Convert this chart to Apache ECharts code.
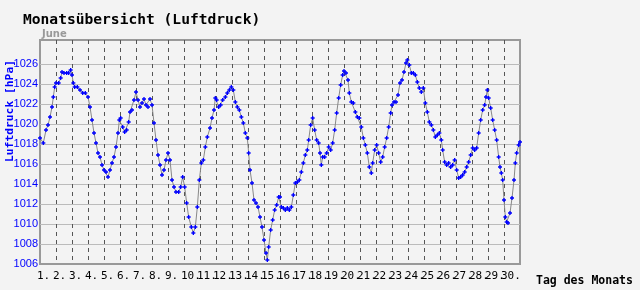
<!DOCTYPE html>
<html>
<head>
<meta charset="utf-8">
<script src="https://cdn.jsdelivr.net/npm/echarts@6/dist/echarts.min.js"></script>
<style>
html,body{margin:0;padding:0;background:#f3f3f3;}
#c{width:640px;height:290px;}
</style>
</head>
<body>
<div id="c"></div>
<script>
// Time of each reading, in hours since the start of the month (0 = day 1, 00:00)
const hours = [
  0,5,9,12,15,18,20,22,24,28,31,33,36,40,43,46,48,50,52,56,60,64,68,72,75,78,81,84,87,90,93,96,99,102,105,108,111,114,117,119,121,124,127,130,133,135,138,141,144,147,150,153,156,159,162,165,168,171,174,177,180,
  183,186,189,192,195,198,201,204,208,211,214,217,220,223,227,230,233,236,239,242,245,248,251,255,258,261,263,265,268,271,274,278,281,284,287,290,293,296,299,302,305,308,311,313,315,318,321,324,327,330,333,336,339,341,343,346,349,352,355,358,360,
  362,365,368,371,374,377,380,383,386,389,392,395,398,401,403,406,409,412,415,418,420,422,424,427,430,433,436,439,442,445,448,451,454,456,459,462,464,467,470,473,476,479,482,485,488,491,494,497,499,502,505,508,511,514,517,520,523,526,528,531,534,537,540,
  543,546,549,551,554,557,560,563,566,569,572,575,578,581,584,587,590,593,596,599,602,604,607,610,613,616,619,622,625,628,631,634,637,640,643,646,649,652,655,658,661,664,667,669,671,673,676,679,682,685,688,690,692,694,696,698,700,702,705,708,711,713,715,718,720
];
// Air pressure in hPa
const pressure = [
  1018.6,1018.1,1019.4,1019.9,1020.7,1021.7,1022.7,1023.7,1024.1,1024.1,1024.6,1025.2,1025.1,1025.1,1025.1,1025.4,1024.9,1024.1,1023.7,1023.7,1023.4,1023.1,1023.1,1022.7,1021.7,1020.4,1019.1,1018.1,1017.1,1016.7,1015.9,1015.4,1015.2,1014.7,1015.4,1016.1,1016.7,1017.7,1019.1,1020.4,1020.6,1019.7,1019.2,1019.4,1020.2,1021.2,1021.4,1022.4,1023.2,1022.4,1021.7,1022.1,1022.5,1021.9,1021.7,1022.5,1021.9,1020.1,1018.4,1016.9,1015.9,
  1014.9,1015.4,1016.4,1017.1,1016.4,1014.4,1013.7,1013.2,1013.2,1013.7,1014.7,1013.7,1012.1,1010.7,1009.7,1009.1,1009.7,1011.7,1014.4,1016.1,1016.4,1017.7,1018.7,1019.6,1020.6,1021.4,1022.6,1022.4,1021.7,1021.9,1022.4,1022.7,1023.1,1023.4,1023.7,1023.4,1022.2,1021.7,1021.4,1020.7,1020.1,1019.1,1018.6,1017.1,1015.4,1014.1,1012.4,1012.1,1011.7,1010.7,1009.7,1008.4,1007.1,1006.4,1007.7,1009.4,1010.4,1011.4,1011.9,1012.7,1012.7,
  1011.7,1011.6,1011.4,1011.6,1011.4,1011.7,1012.9,1014.1,1014.2,1014.4,1015.2,1016.1,1016.9,1017.4,1018.4,1019.9,1020.6,1019.4,1018.4,1018.1,1017.1,1015.9,1016.7,1016.7,1017.1,1017.7,1017.4,1018.1,1019.4,1021.1,1022.6,1023.9,1024.9,1025.3,1025.1,1024.4,1023.1,1022.2,1022.1,1021.2,1020.7,1020.6,1019.7,1018.6,1017.9,1017.1,1015.7,1015.1,1016.1,1017.4,1017.9,1017.1,1016.2,1016.7,1017.7,1018.6,1019.7,1021.1,1021.9,1022.2,1022.2,1022.9,1024.1,
  1024.4,1025.2,1026.1,1026.4,1025.9,1025.1,1025.1,1024.9,1024.2,1023.6,1023.2,1023.6,1022.1,1021.2,1020.2,1019.9,1019.4,1018.7,1018.9,1019.1,1018.4,1017.4,1016.2,1015.9,1016.1,1015.7,1015.9,1016.4,1015.4,1014.6,1014.7,1014.9,1015.2,1015.7,1016.2,1016.9,1017.6,1017.4,1017.6,1019.1,1020.4,1021.4,1021.9,1022.7,1023.4,1022.6,1021.6,1020.4,1019.4,1018.4,1016.7,1015.7,1015.1,1014.4,1012.4,1010.7,1010.2,1010.1,1011.1,1012.6,1014.4,1016.1,1017.1,1017.9,1018.2
];
const titleText = 'Monatsübersicht (Luftdruck)';
const monthText = 'June';
const yAxisTitle = 'Luftdruck [hPa]';
const xAxisTitle = 'Tag des Monats';
const yMin = 1006, yMaxTick = 1026, yStep = 2;
const daysInMonth = 30;

const seriesData = hours.map((h, i) => [h, pressure[i]]);

const xLineColors = [];
for (let i = 0; i <= daysInMonth; i++) xLineColors.push(i === 0 || i === daysInMonth ? 'rgba(0,0,0,0)' : '#555');
const yLineColors = [];
for (let v = yMin; v <= 1030; v += yStep) yLineColors.push(v > yMin && v <= yMaxTick ? '#bbbbbb' : 'rgba(0,0,0,0)');
yLineColors.push('rgba(0,0,0,0)');

const chart = echarts.init(document.getElementById('c'), null, {renderer: 'canvas'});
chart.setOption({
  backgroundColor: '#f3f3f3',
  animation: false,
  title: [
    {text: titleText, left: 18, top: 8, textStyle: {fontFamily: 'DejaVu Sans Mono', fontSize: 14.6, fontWeight: 'bold', color: '#000'}},
    {text: monthText, left: 37, top: 24, textStyle: {fontFamily: 'DejaVu Sans', fontSize: 10, fontWeight: 'bold', color: '#999'}}
  ],
  graphic: [{
    type: 'text', x: 10, y: 111, rotation: Math.PI / 2,
    style: {text: yAxisTitle, fill: '#0000ff', font: 'bold 11.3px "DejaVu Sans Mono"', textAlign: 'center', textVerticalAlign: 'middle'}
  }],
  grid: {left: 40, right: 120, top: 40, bottom: 26, show: true, borderColor: '#999', borderWidth: 2, backgroundColor: 'transparent'},
  xAxis: {
    type: 'value', min: 0, max: daysInMonth * 24, interval: 24,
    name: xAxisTitle, nameLocation: 'end', nameGap: 16,
    nameTextStyle: {fontFamily: 'DejaVu Sans Mono', fontWeight: 'bold', fontSize: 11.5, color: '#000', verticalAlign: 'top', padding: [11, 0, 0, 0]},
    axisLine: {show: false}, axisTick: {show: false},
    axisLabel: {
      margin: 7, align: 'left', padding: [0, 0, 0, -3],
      fontFamily: 'DejaVu Sans Mono', fontSize: 11, color: '#000',
      formatter: v => v < daysInMonth * 24 ? (v / 24 + 1) + '.' : ''
    },
    splitLine: {show: true, lineStyle: {color: xLineColors, type: [4, 4], width: 1}}
  },
  yAxis: {
    type: 'value', min: yMin, max: 1028.4, interval: yStep,
    axisLine: {show: false}, axisTick: {show: false},
    axisLabel: {
      margin: 2, fontFamily: 'Liberation Sans', fontSize: 11, color: '#0000ff',
      formatter: v => (v <= yMaxTick && Number.isInteger(v)) ? String(v) : ''
    },
    splitLine: {show: true, lineStyle: {color: yLineColors, width: 1}}
  },
  series: [{
    type: 'line', data: seriesData,
    symbol: 'path://M1 0H2V1H3V2H2V3H1V2H0V1H1Z', symbolSize: 4, showSymbol: true,
    itemStyle: {color: '#0000ff'},
    lineStyle: {color: '#888', width: 1},
    emphasis: {disabled: true}
  }]
});
</script>
</body>
</html>
